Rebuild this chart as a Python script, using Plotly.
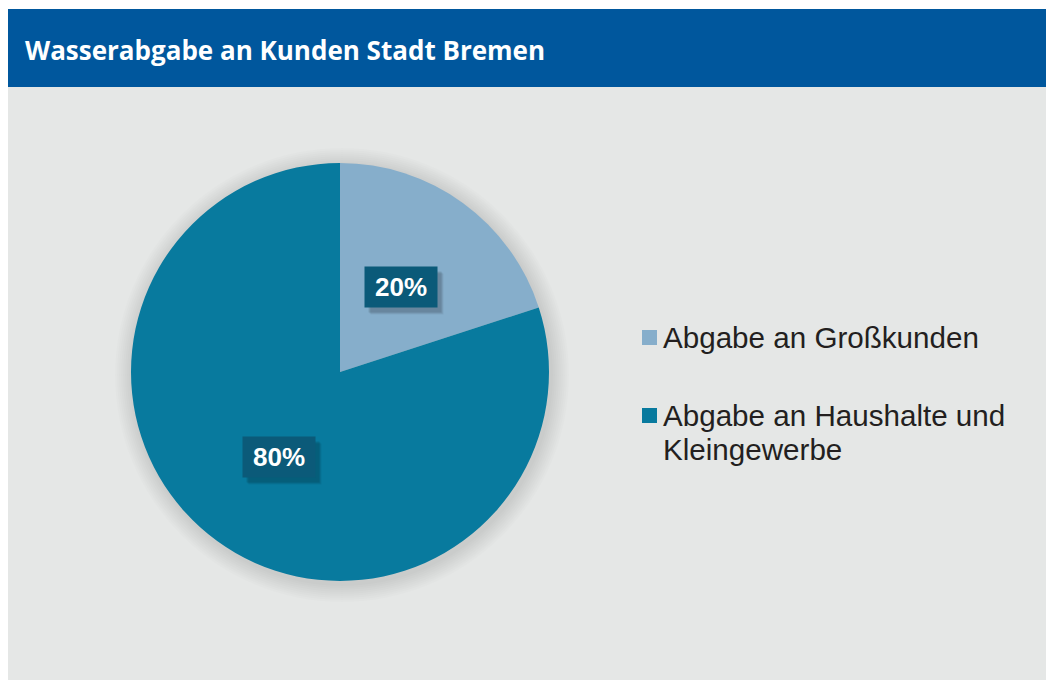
import math
import plotly.graph_objects as go

title = "Wasserabgabe an Kunden Stadt Bremen"
categories = ["Abgabe an Großkunden", "Abgabe an Haushalte und<br>Kleingewerbe"]
values = [20, 80]
colors = ["#86aecb", "#087a9e"]
label_texts = ["20%", "80%"]

W, H = 1054, 680
OFF = 8  # page body margin offset


def px(x):
    return (x - OFF) / W


def py(y):
    return 1 - (y - OFF) / H


cx, cy, R = 340, 372, 209  # pie geometry in screen pixels

fig = go.Figure()
fig.add_trace(go.Pie(
    labels=categories, values=values, sort=False, direction="clockwise", rotation=0,
    marker=dict(colors=colors, line=dict(width=0)),
    textinfo="none", hoverinfo="label+percent", showlegend=False,
    domain=dict(x=[px(cx - R), px(cx + R)], y=[py(cy + R), py(cy - R)]),
))

shapes = []
shapes.append(dict(type="rect", xref="paper", yref="paper", x0=0, x1=1, y0=0, y1=py(87),
                   fillcolor="#e5e7e6", line=dict(width=0), layer="below"))
shapes.append(dict(type="rect", xref="paper", yref="paper", x0=0, x1=1, y0=py(87), y1=py(9),
                   fillcolor="#00579d", line=dict(width=0), layer="below"))
# soft shadow around the pie
for grow in range(18, 0, -2):
    r = R + grow
    ox, oy = cx + 2, cy + 3
    shapes.append(dict(type="circle", xref="paper", yref="paper",
                       x0=px(ox - r), x1=px(ox + r), y0=py(oy + r), y1=py(oy - r),
                       fillcolor="rgba(0,0,0,0.012)", line=dict(width=0), layer="below"))

annotations = []
annotations.append(dict(text=f"<b>{title}</b>", xref="paper", yref="paper", x=px(23), y=py(50),
                        xanchor="left", yanchor="middle", showarrow=False,
                        font=dict(family="Open Sans", size=26, color="white")))

total = sum(values)
acc = 0
for v, t in zip(values, label_texts):
    mid = (acc + v / 2) / total * 2 * math.pi
    acc += v
    lx = cx + 0.5 * R * math.sin(mid)
    ly = cy - 0.5 * R * math.cos(mid)
    for k, op in [(7, 0.06), (6, 0.08), (5, 0.1)]:
        annotations.append(dict(text="", xref="paper", yref="paper", x=px(lx + k - 1), y=py(ly + k),
                                xanchor="center", yanchor="middle", showarrow=False, width=72, height=40,
                                bgcolor=f"rgba(0,0,0,{op})", borderpad=0))
    annotations.append(dict(text=f"<b>{t}</b>", xref="paper", yref="paper", x=px(lx), y=py(ly),
                            xanchor="center", yanchor="middle", showarrow=False, width=72, height=40,
                            bgcolor="#0b5a79", borderpad=0,
                            font=dict(family="Liberation Sans", size=26, color="white")))

# legend
leg_y = [337.5, 415.5]
line_gap = 34
for c, lab, yy in zip(colors, categories, leg_y):
    shapes.append(dict(type="rect", xref="paper", yref="paper",
                       x0=px(642), x1=px(657), y0=py(yy + 7.5), y1=py(yy - 7.5),
                       fillcolor=c, line=dict(width=0)))
    for j, part in enumerate(lab.split("<br>")):
        annotations.append(dict(text=part, xref="paper", yref="paper", x=px(661), y=py(yy + j * line_gap),
                                xanchor="left", yanchor="middle", align="left", showarrow=False,
                                font=dict(family="Liberation Sans", size=29.6, color="#231f20")))

fig.update_layout(
    width=W, height=H, margin=dict(l=0, r=0, t=0, b=0),
    paper_bgcolor="white", plot_bgcolor="white",
    shapes=shapes, annotations=annotations, showlegend=False,
)
fig.write_html("out.html")
